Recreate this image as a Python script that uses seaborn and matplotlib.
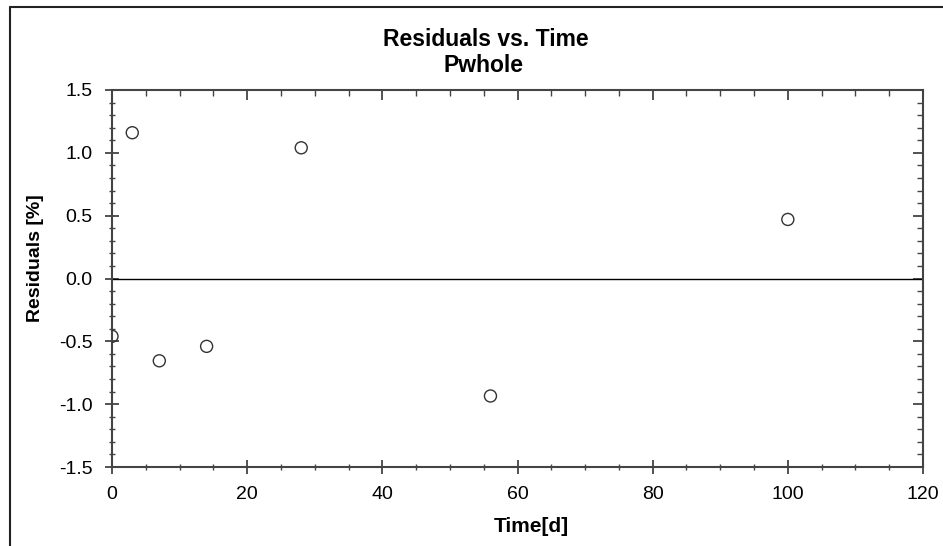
import matplotlib
matplotlib.use("Agg")
import matplotlib.pyplot as plt
import seaborn as sns
import pandas as pd
from matplotlib.lines import Line2D
from matplotlib.ticker import MultipleLocator

time_d = [0, 3, 7, 14, 28, 56, 100]
residuals = [-0.46, 1.16, -0.655, -0.54, 1.04, -0.935, 0.47]

title_lines = ["Residuals vs. Time", "Pwhole"]
x_label = "Time[d]"
y_label = "Residuals [%]"

sns.set_style("white")
plt.rcParams['font.family'] = ['Liberation Sans', 'DejaVu Sans']
plt.rcParams['text.color'] = 'black'
plt.rcParams['axes.labelcolor'] = 'black'
plt.rcParams['xtick.labelcolor'] = 'black'
plt.rcParams['ytick.labelcolor'] = 'black'

df = pd.DataFrame({"t": time_d, "r": residuals})

fig = plt.figure(figsize=(9.43, 5.46), dpi=100)
ax = fig.add_axes([112/943, 1-467/546, (923-112)/943, (467-90)/546])

sns.scatterplot(data=df, x="t", y="r", ax=ax, marker="o", s=75,
                facecolor="none", edgecolor="#333333", linewidth=1.0, zorder=3)
ax.axhline(0, color="black", lw=1.0, zorder=2)

ax.set_xlim(0, 120)
ax.set_ylim(-1.5, 1.5)
ax.xaxis.set_major_locator(MultipleLocator(20))
ax.xaxis.set_minor_locator(MultipleLocator(5))
ax.yaxis.set_major_locator(MultipleLocator(0.5))
ax.yaxis.set_minor_locator(MultipleLocator(0.1))
ax.yaxis.set_major_formatter(matplotlib.ticker.FormatStrFormatter('%.1f'))

for s in ax.spines.values():
    s.set_color("#444444")
    s.set_linewidth(1.5)

ax.tick_params(which="major", direction="inout", length=10, width=1.3,
               color="#444444", labelsize=14, pad=9, bottom=True, left=True,
               labelcolor="black")
ax.tick_params(which="minor", direction="inout", length=5, width=1.0,
               color="#444444", bottom=True, left=True)

secx = ax.secondary_xaxis('top')
secx.xaxis.set_major_locator(MultipleLocator(20))
secx.xaxis.set_minor_locator(MultipleLocator(5))
secx.tick_params(which="major", direction="in", length=7, width=1.3, color="#444444", labeltop=False)
secx.tick_params(which="minor", direction="in", length=4, width=1.0, color="#444444")
secx.spines['top'].set_visible(False)

secy = ax.secondary_yaxis('right')
secy.yaxis.set_major_locator(MultipleLocator(0.5))
secy.yaxis.set_minor_locator(MultipleLocator(0.1))
secy.tick_params(which="major", direction="in", length=7, width=1.3, color="#444444", labelright=False)
secy.tick_params(which="minor", direction="in", length=4, width=1.0, color="#444444")
secy.spines['right'].set_visible(False)

ax.set_xlabel(x_label, fontsize=15, fontweight="bold", color="black")
ax.set_ylabel(y_label, fontsize=14, fontweight="bold", color="black")
ax.xaxis.set_label_coords((531-112)/811, -(527-467)/377)
ax.yaxis.set_label_coords((35-112)/811, (467-258)/377)
ax.xaxis.label.set_va("center")
ax.yaxis.label.set_va("center")

fig.text(486/943, 1-39/546, title_lines[0], ha="center", va="center",
         fontsize=16.5, fontweight="bold", color="black")
fig.text(484/943, 1-65/546, title_lines[1], ha="center", va="center",
         fontsize=16.5, fontweight="bold", color="black")

# outer frame
fig.add_artist(Line2D([10/943, 10/943], [0, 1-7/546], color="#222222", lw=1.5, transform=fig.transFigure))
fig.add_artist(Line2D([10/943, 1], [1-7/546, 1-7/546], color="#222222", lw=1.5, transform=fig.transFigure))

fig.savefig("out.png", dpi=100)
